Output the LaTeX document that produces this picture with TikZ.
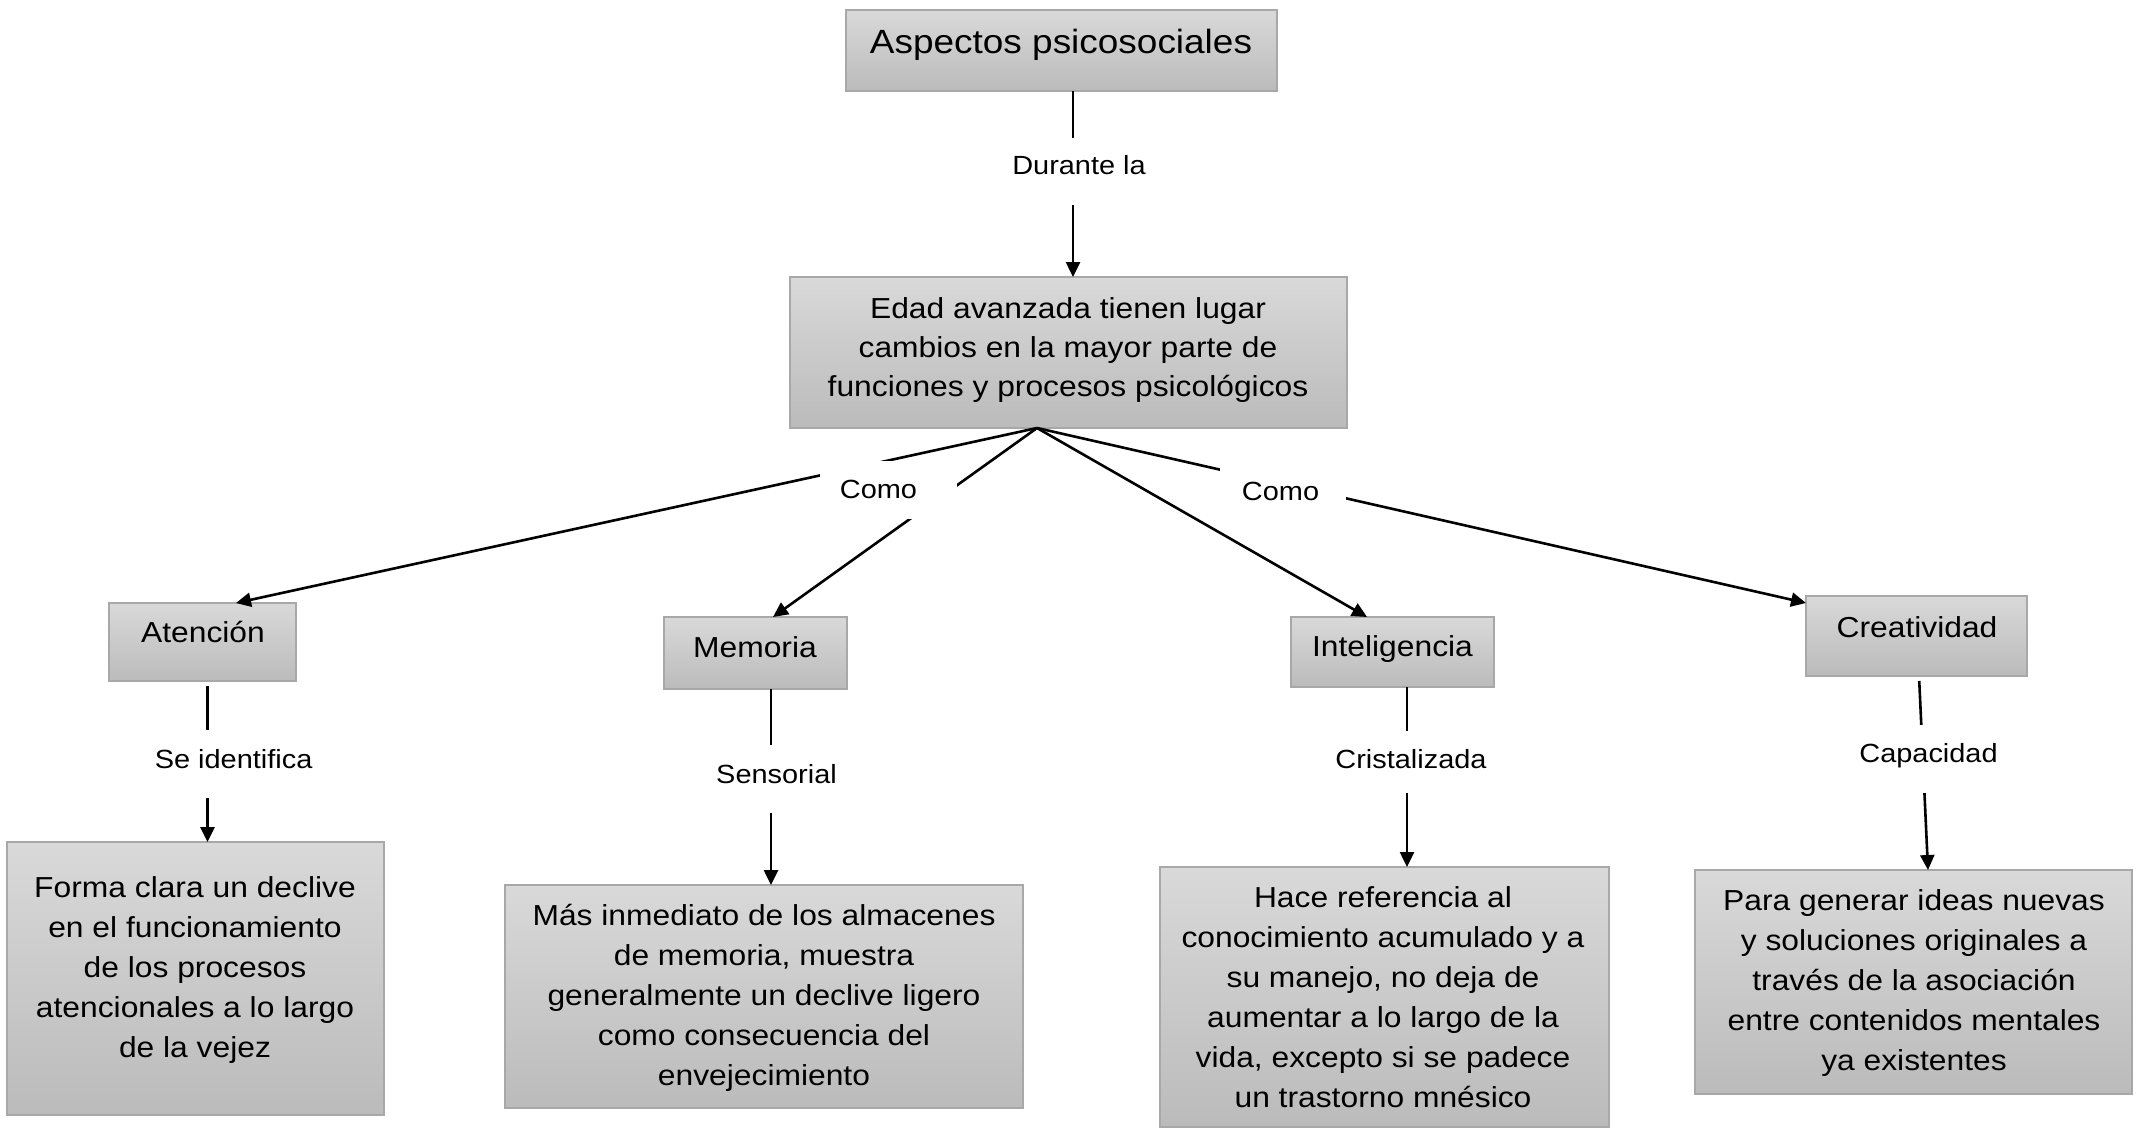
\documentclass[tikz,border=0pt]{standalone}
\usepackage{fontspec}
\setmainfont{Liberation Sans}[FakeStretch=1.1]
\usetikzlibrary{arrows.meta}
\definecolor{boxtop}{HTML}{D9D9D9}
\definecolor{boxbot}{HTML}{BBBBBB}
\definecolor{boxline}{HTML}{A8A8A8}
\newcommand\ml[1]{\begin{tabular}[t]{@{}c@{}}#1\end{tabular}}
\newcommand\boxfont{\fontsize{28.9pt}{40pt}\selectfont}
\newcommand\edadfont{\fontsize{28.9pt}{39pt}\selectfont}
\newcommand\topfont{\fontsize{33.6pt}{40pt}\selectfont}
\newcommand\lblfont{\fontsize{26.3pt}{30pt}\selectfont}
\begin{document}
\begin{tikzpicture}[x=1pt,y=-1pt,
  cbox/.style={draw=boxline, line width=2pt, top color=boxtop, bottom color=boxbot, inner sep=0pt, outer sep=0pt},
  txt/.style={anchor=base, inner sep=0pt, font=\boxfont, text=black},
  lbl/.style={anchor=base, fill=white, inner xsep=3pt, inner ysep=0pt, font=\lblfont, text=black},
  conn/.style={line width=2.6pt, black},
  arr/.style={conn, -{Triangle[width=14pt,length=15pt]}}]
\fill[white] (0,0) rectangle (2140,1129);
\useasboundingbox (0,0) rectangle (2140,1129);

% boxes
\node[cbox, minimum width=431pt, minimum height=81pt] (top) at (1061.5,50.5) {};
\node[cbox, minimum width=557pt, minimum height=151pt] (edad) at (1068.5,352.5) {};
\node[cbox, minimum width=187pt, minimum height=78pt] (atencion) at (202.5,642) {};
\node[cbox, minimum width=183pt, minimum height=72pt] (memoria) at (755.5,653) {};
\node[cbox, minimum width=203pt, minimum height=70pt] (inteligencia) at (1392.5,652) {};
\node[cbox, minimum width=221pt, minimum height=80pt] (creatividad) at (1916.5,636) {};
\node[cbox, minimum width=377pt, minimum height=273pt] (forma) at (195.5,978.5) {};
\node[cbox, minimum width=518pt, minimum height=223pt] (mas) at (764,996.5) {};
\node[cbox, minimum width=449pt, minimum height=260pt] (hace) at (1384.5,997) {};
\node[cbox, minimum width=437pt, minimum height=224pt] (para) at (1913.5,982) {};

% connectors
\coordinate (apex) at (1037,0 |- edad.south);
\draw[arr] (1073,0 |- top.south) -- (1073,0 |- edad.north);
\draw[arr] (apex) -- (236,0 |- atencion.north);
\draw[arr] (apex) -- (773,0 |- memoria.north);
\draw[arr] (apex) -- (1367,0 |- inteligencia.north);
\draw[arr] (apex) -- (creatividad.west |- 0,603);
\draw[arr, shorten <=5pt] (207.5,0 |- atencion.south) -- (207.5,0 |- forma.north);
\draw[arr] (771,0 |- memoria.south) -- (771,0 |- mas.north);
\draw[arr] (1407,0 |- inteligencia.south) -- (1407,0 |- hace.north);
\draw[arr, shorten <=5pt] (1919,0 |- creatividad.south) -- (1928,0 |- para.north);

% linking labels
\node[lbl, text height=36pt, text depth=31pt] (durante) at (1079,174) {Durante la};
\node[lbl, text height=37pt, text depth=21pt, minimum width=137pt, inner xsep=0pt] (como1) at (888.5,498) {Como\kern20pt};
\node[lbl, text height=39pt, text depth=19pt, minimum width=126pt, inner xsep=0pt] (como2) at (1283,500) {Como\kern5pt};
\node[lbl, text height=38pt, text depth=29.5pt] (seid) at (233.6,768) {Se identifica};
\node[lbl, text height=38.4pt, text depth=29.5pt] (sensorial) at (776.5,783) {Sensorial};
\node[lbl, text height=37pt, text depth=25pt] (cristal) at (1411,768) {Cristalizada};
\node[lbl, text height=37pt, text depth=31pt] (capac) at (1928.5,762) {Capacidad};

% box texts
\node[txt, font=\topfont] (topT) at (1061,54) {Aspectos psicosociales};
\node[txt, font=\edadfont] (edadT) at (1068,318) {\ml{Edad avanzada tienen lugar\\cambios en la mayor parte de\\funciones y procesos psicológicos}};
\node[txt] (atencionT) at (203,642) {Atención};
\node[txt] (memoriaT) at (755,657) {Memoria};
\node[txt] (inteligenciaT) at (1392.5,656) {Inteligencia};
\node[txt] (creatividadT) at (1917,637) {Creatividad};
\node[txt] (formaT) at (195,897) {\ml{Forma clara un declive\\en el funcionamiento\\de los procesos\\atencionales a lo largo\\de la vejez}};
\node[txt] (masT) at (764,925) {\ml{Más inmediato de los almacenes\\de memoria, muestra\\generalmente un declive ligero\\como consecuencia del\\envejecimiento}};
\node[txt] (haceT) at (1383,907) {\ml{Hace referencia al\\conocimiento acumulado y a\\su manejo, no deja de\\aumentar a lo largo de la\\vida, excepto si se padece\\un trastorno mnésico}};
\node[txt] (paraT) at (1914,910) {\ml{Para generar ideas nuevas\\y soluciones originales a\\través de la asociación\\entre contenidos mentales\\ya existentes}};
\end{tikzpicture}
\end{document}
